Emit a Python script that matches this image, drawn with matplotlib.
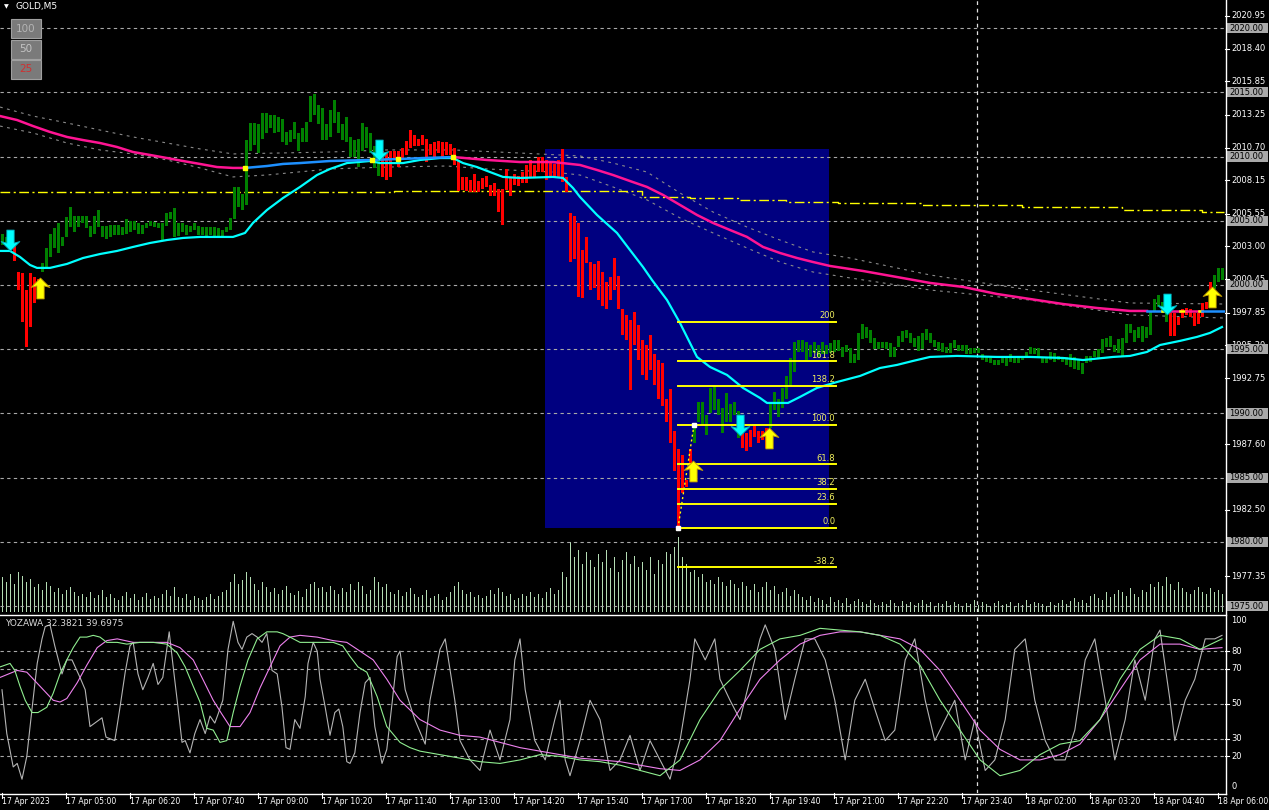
import matplotlib
matplotlib.use('Agg')
import matplotlib.pyplot as plt
from matplotlib.path import Path
from matplotlib.patches import Rectangle
from matplotlib.lines import Line2D
from matplotlib.transforms import blended_transform_factory

# GOLD M5, Heiken Ashi bodies, bar 0 = 17 Apr 2023 03:40
opens = [
    2003.1, 2003.0, 2003.3, 2003.0, 2001.0, 2000.9, 1999.6, 2000.9, 2000.6, 2000.5,
    2001.0, 2001.4, 2002.2, 2002.9, 2002.5, 2003.0, 2003.7, 2004.5, 2004.1, 2004.5,
    2004.8, 2004.4, 2003.7, 2004.0, 2004.5, 2003.7, 2003.6, 2003.7, 2003.9, 2003.9,
    2003.9, 2004.0, 2004.1, 2004.3, 2004.0, 2004.0, 2004.4, 2004.6, 2004.5, 2004.4,
    2003.5, 2004.6, 2005.1, 2003.7, 2003.8, 2004.1, 2003.9, 2004.1, 2004.3, 2003.9,
    2003.9, 2003.7, 2003.9, 2003.7, 2003.7, 2003.8, 2004.1, 2004.3, 2005.1, 2006.1,
    2005.8, 2006.2, 2010.4, 2010.9, 2010.3, 2011.4, 2011.8, 2012.2, 2011.8, 2011.9,
    2011.1, 2010.9, 2011.1, 2011.4, 2010.4, 2011.1, 2011.1, 2012.7, 2013.2, 2012.5,
    2011.3, 2011.3, 2011.5, 2012.6, 2011.8, 2011.3, 2011.1, 2010.0, 2010.0, 2009.2,
    2010.4, 2010.7, 2010.3, 2009.1, 2008.5, 2010.4, 2010.3, 2010.4, 2010.4, 2010.4,
    2010.7, 2011.2, 2012.1, 2011.7, 2011.4, 2011.7, 2011.4, 2011.0, 2011.1, 2011.2,
    2011.1, 2011.1, 2011.0, 2010.7, 2009.7, 2008.4, 2008.4, 2008.2, 2008.6, 2008.1,
    2008.3, 2008.5, 2007.8, 2007.9, 2007.5, 2007.5, 2009.0, 2008.3, 2008.6, 2008.5,
    2008.8, 2009.3, 2009.7, 2009.3, 2010.0, 2010.0, 2009.7, 2009.5, 2009.4, 2009.7,
    2010.6, 2008.4, 2005.6, 2005.4, 2004.8, 2002.7, 2003.7, 2001.8, 2001.6, 2001.9,
    2001.0, 2000.2, 2000.6, 2002.1, 2000.7, 1998.1, 1997.7, 1997.3, 1997.9, 1996.9,
    1995.7, 1995.3, 1996.1, 1994.6, 1994.2, 1993.9, 1991.1, 1991.9, 1988.6, 1987.2,
    1986.8, 1984.8, 1987.2, 1987.7, 1989.3, 1989.1, 1988.3, 1990.0, 1990.3, 1989.9,
    1988.5, 1989.3, 1989.3, 1989.9, 1988.1, 1988.7, 1988.5, 1988.7, 1989.0, 1988.6,
    1988.6, 1988.9, 1988.9, 1990.3, 1989.7, 1990.4, 1991.1, 1992.2, 1993.2, 1994.8,
    1994.8, 1994.1, 1994.4, 1994.7, 1994.4, 1994.6, 1994.6, 1994.7, 1994.8, 1994.9,
    1994.4, 1994.8, 1993.9, 1993.9, 1994.2, 1995.8, 1995.9, 1995.5, 1995.0, 1995.0,
    1995.1, 1995.0, 1994.4, 1994.4, 1995.2, 1995.6, 1995.9, 1995.5, 1995.2, 1994.9,
    1995.0, 1995.7, 1995.5, 1995.2, 1994.9, 1994.8, 1994.7, 1994.7, 1995.1, 1994.9,
    1994.9, 1994.6, 1994.6, 1994.7, 1994.7, 1994.2, 1994.0, 1993.9, 1993.8, 1993.8,
    1993.9, 1993.7, 1994.0, 1993.9, 1993.9, 1994.2, 1994.4, 1994.6, 1994.6, 1994.3,
    1993.9, 1993.9, 1994.2, 1994.0, 1994.2, 1994.0, 1993.8, 1993.6, 1993.5, 1993.4,
    1993.1, 1993.9, 1994.0, 1994.4, 1994.3, 1994.7, 1995.2, 1995.2, 1994.8, 1994.7,
    1994.4, 1995.5, 1996.3, 1995.6, 1995.9, 1995.6, 1995.9, 1996.1, 1997.9, 1998.3,
    1997.8, 1997.1, 1997.8, 1997.8, 1997.5, 1998.1, 1998.2, 1998.1, 1997.8, 1997.8,
    1998.6, 1998.7, 2000.2, 1999.7, 2000.2, 2000.4,
]
closes = [
    2004.0, 2003.7, 2002.7, 2001.9, 1999.6, 1997.1, 1995.2, 1996.7, 1998.6, 1999.6,
    2001.7, 2002.9, 2004.0, 2004.4, 2004.8, 2003.7, 2005.3, 2006.1, 2005.4, 2005.4,
    2005.4, 2005.4, 2004.6, 2005.4, 2005.8, 2004.6, 2004.6, 2004.7, 2004.7, 2004.7,
    2004.5, 2005.1, 2005.0, 2005.0, 2004.8, 2004.7, 2004.8, 2005.0, 2004.9, 2004.8,
    2004.8, 2005.6, 2005.7, 2006.0, 2004.8, 2004.8, 2004.7, 2004.6, 2004.8, 2004.6,
    2004.5, 2004.5, 2004.5, 2004.5, 2004.4, 2004.3, 2004.5, 2005.2, 2007.6, 2007.6,
    2007.1, 2011.3, 2012.6, 2012.6, 2012.5, 2013.4, 2013.4, 2013.2, 2013.2, 2013.1,
    2012.9, 2011.9, 2012.1, 2012.7, 2011.8, 2012.2, 2012.7, 2014.7, 2014.9, 2014.0,
    2013.8, 2012.5, 2013.6, 2014.4, 2013.5, 2012.5, 2013.1, 2011.5, 2011.3, 2011.4,
    2012.6, 2012.3, 2011.8, 2010.8, 2010.1, 2008.4, 2008.2, 2008.4, 2009.9, 2009.2,
    2009.9, 2010.1, 2010.7, 2010.8, 2010.8, 2010.9, 2009.6, 2010.1, 2010.0, 2010.3,
    2010.0, 2010.1, 2010.1, 2009.3, 2007.3, 2007.4, 2007.3, 2007.2, 2007.2, 2007.2,
    2007.5, 2007.6, 2006.9, 2006.9, 2005.7, 2004.7, 2007.4, 2006.9, 2007.8, 2007.7,
    2007.9, 2007.9, 2008.4, 2008.4, 2008.8, 2008.8, 2008.2, 2008.4, 2008.4, 2008.4,
    2008.0, 2007.2, 2001.8, 2002.0, 1999.1, 1999.0, 2001.7, 1999.6, 1999.8, 1998.8,
    1998.4, 1998.1, 1998.8, 1999.6, 1998.1, 1996.1, 1995.7, 1991.8, 1995.3, 1994.2,
    1993.0, 1992.6, 1993.4, 1992.2, 1991.1, 1990.6, 1989.3, 1987.7, 1985.5, 1980.9,
    1983.8, 1984.3, 1985.6, 1989.1, 1990.9, 1990.9, 1989.9, 1992.0, 1992.1, 1991.1,
    1990.4, 1991.6, 1990.7, 1990.9, 1990.2, 1987.3, 1987.1, 1987.4, 1988.2, 1987.7,
    1987.9, 1987.3, 1990.8, 1991.7, 1991.1, 1992.0, 1992.9, 1994.3, 1995.6, 1995.7,
    1995.7, 1995.6, 1995.3, 1995.6, 1995.3, 1995.6, 1995.3, 1995.5, 1995.7, 1995.7,
    1995.2, 1995.3, 1995.1, 1994.6, 1996.3, 1997.0, 1996.7, 1996.5, 1995.9, 1995.6,
    1995.6, 1995.6, 1995.5, 1995.2, 1996.0, 1996.4, 1996.5, 1996.3, 1995.9, 1996.0,
    1996.3, 1996.6, 1996.3, 1995.7, 1995.6, 1995.5, 1995.2, 1995.5, 1995.7, 1995.3,
    1995.3, 1995.3, 1995.1, 1995.1, 1995.1, 1994.6, 1994.5, 1994.3, 1994.2, 1994.2,
    1994.4, 1994.3, 1994.6, 1994.4, 1994.4, 1994.5, 1994.8, 1995.2, 1995.1, 1995.1,
    1994.4, 1994.3, 1994.8, 1994.7, 1994.5, 1994.3, 1994.4, 1994.6, 1994.4, 1994.2,
    1993.9, 1994.5, 1994.5, 1994.9, 1995.0, 1995.8, 1995.9, 1996.0, 1995.3, 1995.8,
    1995.9, 1997.0, 1997.0, 1996.5, 1996.7, 1996.8, 1996.7, 1998.0, 1998.9, 1999.2,
    1998.7, 1998.1, 1996.0, 1996.0, 1996.9, 1997.4, 1997.7, 1997.5, 1996.8, 1997.0,
    1997.5, 1998.1, 1998.6, 2000.8, 2001.3, 2001.3,
]
# tick volume (rough)
volumes = [
    350, 300, 380, 280, 400, 360, 300, 330, 250, 280, 220, 300, 260, 200, 240, 180, 220, 250, 200, 160,
    180, 150, 200, 140, 170, 220, 150, 180, 140, 120, 160, 200, 140, 180, 120, 150, 190, 130, 160, 140,
    180, 220, 160, 250, 150, 140, 180, 120, 160, 140, 120, 150, 180, 130, 160, 200, 220, 300, 380, 280,
    320, 400, 350, 280, 220, 300, 250, 200, 240, 180, 220, 260, 190, 170, 210, 150, 230, 280, 300, 240,
    250, 200, 260, 220, 180, 240, 200, 280, 220, 300, 260, 180, 220, 350, 300, 250, 280, 200, 180, 220,
    160, 200, 240, 180, 150, 170, 220, 140, 160, 180, 120, 150, 200, 260, 300, 220, 180, 200, 150, 170,
    140, 160, 220, 180, 240, 200, 160, 180, 120, 140, 180, 160, 200, 150, 180, 140, 200, 240, 180, 220,
    400, 350, 700, 550, 620, 480, 600, 520, 450, 580, 500, 620, 440, 550, 400, 520, 600, 480, 560, 450,
    500, 420, 550, 380, 520, 480, 600, 580, 650, 750, 550, 480, 400, 420, 350, 380, 300, 320, 280, 350,
    300, 260, 320, 280, 240, 300, 260, 220, 280, 200, 250, 300, 220, 260, 180, 200, 240, 160, 220, 180,
    150, 120, 160, 100, 140, 120, 80, 150, 100, 120, 90, 140, 80, 110, 130, 100, 80, 120, 90, 70,
    100, 80, 120, 90, 60, 110, 80, 100, 70, 90, 120, 80, 100, 60, 90, 80, 110, 70, 100, 80,
    60, 90, 80, 120, 70, 100, 80, 60, 90, 110, 70, 80, 100, 60, 90, 70, 120, 80, 100, 90,
    80, 60, 100, 70, 90, 120, 80, 110, 140, 100, 120, 90, 160, 180, 140, 120, 200, 150, 180, 220,
    200, 160, 240, 180, 150, 220, 200, 280, 250, 300, 260, 350, 280, 220, 300, 240, 200, 180, 220, 250,
    200, 180, 240, 200, 220, 180,
]

# moving averages (bar index, price)
cyan_x = [-0.5, 2, 4.5, 7, 8.75, 12, 16.25, 20.25, 24.5, 28.75, 32.75, 37, 41.25, 45.25, 49.5, 53.75,
          57.75, 60.75, 62.75, 66.25, 70.25, 74.5, 78.75, 82, 86.25, 92, 94.5, 100.25, 104.5, 109.5,
          112.75, 115.25, 118.75, 122, 125.25, 129.5, 137.75, 140.25, 142.75, 144.5, 148.75, 153.75,
          157, 160.25, 162.5, 166.25, 169.5, 173.75, 177, 181.25, 185.25, 189.5, 191.25, 196.5, 199.5,
          203.75, 208.75, 214.5, 219.5, 223.75, 227.75, 232, 238.75, 248.75, 257, 265.25, 270.25,
          277.75, 282, 286.25, 289.5, 294.5, 298.75, 302, 305]
cyan_y = [2002.65, 2002.65, 2002.18, 2001.56, 2001.33, 2001.33, 2001.64, 2002.10, 2002.41, 2002.65,
          2002.96, 2003.27, 2003.50, 2003.66, 2003.74, 2003.74, 2003.74, 2004.05, 2004.83, 2005.84,
          2006.77, 2007.63, 2008.56, 2009.03, 2009.49, 2009.65, 2009.49, 2009.49, 2009.73, 2009.88,
          2009.88, 2009.49, 2009.18, 2008.79, 2008.41, 2008.33, 2008.41, 2008.33, 2007.55, 2006.85,
          2005.45, 2004.05, 2002.72, 2001.40, 2000.39, 1998.83, 1997.04, 1994.40, 1993.62, 1993.00,
          1991.99, 1991.21, 1990.82, 1990.82, 1991.29, 1991.99, 1992.45, 1992.92, 1993.54, 1993.78,
          1994.09, 1994.40, 1994.48, 1994.40, 1994.40, 1994.32, 1994.16, 1994.40, 1994.48, 1994.79,
          1995.33, 1995.65, 1995.96, 1996.27, 1996.73]

ma_pink_a_x = [-0.5, 3.75, 7.75, 12, 16.25, 20.25, 24.5, 28.75, 32.75, 37, 41.25, 45.25, 49.5, 53.75, 57.75, 60.75]
ma_pink_a_y = [2013.15, 2012.84, 2012.37, 2011.91, 2011.52, 2011.28, 2011.05, 2010.74, 2010.35, 2010.12,
               2009.88, 2009.65, 2009.42, 2009.18, 2009.11, 2009.11]
ma_blue_a_x = [60.75, 66.25, 70.25, 74.5, 82, 92, 99.5, 112.75]
ma_blue_a_y = [2009.11, 2009.26, 2009.42, 2009.49, 2009.65, 2009.73, 2009.81, 2009.96]
ma_pink_b_x = [112.75, 121.25, 129.5, 137.75, 144.5, 148.75, 152.75, 157, 161.25, 165.25, 169.5, 173.75,
               177.75, 182, 186.25, 190.25, 194.5, 198.75, 202.75, 207, 215.25, 223.75, 232, 240.25,
               248.75, 257, 265.25, 273.75, 282, 286.25]
ma_pink_b_y = [2009.96, 2009.73, 2009.57, 2009.57, 2009.34, 2008.95, 2008.56, 2008.09, 2007.63, 2007.01,
               2006.23, 2005.45, 2004.83, 2004.28, 2003.74, 2002.96, 2002.49, 2002.10, 2001.79, 2001.48,
               2001.09, 2000.62, 2000.16, 1999.85, 1999.30, 1998.91, 1998.52, 1998.21, 1997.98, 1997.98]
ma_tail_level = 1997.98
ma_tail_segments = [(286.25, 290, 'blue'), (290, 291.5, 'yellow'), (291.5, 294.4, 'pink'),
                    (294.4, 296, 'yellow'), (296, 299.3, 'pink'), (299.3, 300, 'yellow'),
                    (300, 305.5, 'blue')]
ma_turn_x = [60.75, 92.5, 99, 112.75]
ma_turn_y = [2009.11, 2009.72, 2009.80, 2009.96]

env_up_x = [-0.5, 7.75, 16.25, 24.5, 32.75, 41.25, 49.5, 57.75, 82, 96.25, 112.75, 129.5, 144.5, 152.75,
            161.25, 169.5, 177.75, 186.25, 194.5, 202.75, 212, 232, 257, 282, 305.5]
env_up_y = [2013.85, 2013.15, 2012.61, 2012.06, 2011.52, 2011.05, 2010.59, 2010.20, 2010.35, 2010.51,
            2010.51, 2010.27, 2010.04, 2009.49, 2008.79, 2007.16, 2005.68, 2004.51, 2003.50, 2002.57,
            2002.10, 2000.78, 1999.61, 1998.60, 1998.52]
env_dn_x = [-0.5, 7.75, 16.25, 24.5, 32.75, 41.25, 49.5, 57.75, 66.25, 82, 96.25, 111.25, 121.25, 137.75,
            144.5, 152.75, 161.25, 169.5, 177.75, 186.25, 194.5, 202.75, 212, 232, 257, 282, 305.5]
env_dn_y = [2012.37, 2011.83, 2011.05, 2010.51, 2010.20, 2009.73, 2009.11, 2008.41, 2008.56, 2009.03,
            2009.18, 2009.26, 2009.03, 2008.79, 2008.56, 2007.63, 2006.62, 2005.22, 2004.05, 2002.88,
            2001.79, 2001.01, 2000.55, 1999.61, 1998.83, 1997.67, 1997.43]

# stepped yellow dash-dot level
pivot_x = [-0.5, 98, 160, 172, 184, 196, 209, 230, 255, 280, 300, 305.5]
pivot_y = [2007.25, 2007.30, 2006.85, 2006.77, 2006.62, 2006.46, 2006.38, 2006.20, 2006.05, 2005.85, 2005.70, 2005.70]

# signal arrows
down_x = [2, 94.25, 184.5, 291.25]
down_y = [2003.5, 2010.5, 1989.1, 1998.5]
up_x = [9.5, 172.75, 191.75, 302.5]
up_y = [1999.8, 1985.5, 1988.1, 1999.1]

# Fibonacci
fib_x0, fib_x1 = 169, 208.5
fib_low, fib_high = 1981.09, 1989.11
fib_levels = [0.0, 23.6, 38.2, 61.8, 100.0, 138.2, 161.8, 200.0, -38.2]
fib_labels = ['0.0', '23.6', '38.2', '61.8', '100.0', '138.2', '161.8', '200', '-38.2']
box_x = (135.75, 206.75)
box_y = (1981.09, 2010.58)

# oscillator (YOZAWA)
osc_gray_x = [0, 1.2, 2.8, 3.8, 5, 6.2, 7.5, 8.8, 10, 10.8, 12, 13.2, 15, 16.2, 17.5, 19.5, 20.8, 22, 23.8,
              25, 26, 28.2, 29.5, 30.8, 32, 32.8, 34, 35.2, 36.5, 37.8, 39, 40.2, 41.8, 42.8, 44, 45, 45.8,
              47, 48.2, 49.5, 50.8, 52, 53.2, 54, 55.2, 56.5, 57.8, 59, 60, 61.2, 62.5, 63.8, 65, 66.2,
              67.5, 68.8, 70, 71, 72, 73.2, 74.5, 75.8, 76.5, 77.8, 78.8, 79.5, 80.8, 82, 83.2, 84.2,
              85.2, 86.2, 87, 88.2, 89.5, 90.8, 92, 93.2, 95, 96.2, 97.5, 98.8, 99.5,
              100.8, 103.2, 105.8, 107, 109.5, 110.8, 113.2, 114.5, 117, 119.5, 122, 124.5, 127, 128.2,
              129.5, 130.8, 133.2, 135.8, 138.2, 139.5, 140.8, 142, 144.5, 147, 149.5, 152, 154.5, 157,
              159.5, 162, 164.5, 167, 169.5, 172, 173.2, 175.8, 178.2, 179.5, 182, 184.5, 187, 189.5,
              190.8, 193.2, 195.8, 198.2, 200.8, 203.2, 205.8, 208.2, 210.8, 213.2, 215.8, 218.2, 220.8,
              223.2, 225.8, 228.2, 230.8, 233.2, 235.8, 238.2, 240.8, 243.2, 245.8, 248.2, 250.8, 253.2,
              255.8, 258.2, 260.8, 263.2, 265.8, 268.2, 270.8, 273.2, 275.8, 278.2, 280.8, 283.2, 285.8,
              288.2, 289.5, 292, 293.2, 295.8, 298.2, 300.8, 303.2, 305]
osc_gray = [58, 33, 14, 16, 7, 20, 47, 73, 87, 94, 95, 83, 67, 75, 75, 65, 58, 37, 40,
            42, 31, 29, 48, 68, 83, 85, 67, 58, 65, 73, 61, 65, 91, 71, 48, 28, 29,
            22, 33, 41, 33, 43, 39, 44, 52, 81, 97, 85, 81, 88, 90, 88, 85, 90,
            69, 67, 48, 25, 24, 41, 36, 54, 73, 85, 80, 64, 48, 32, 45, 47,
            37, 17, 16, 22, 45, 62, 65, 37, 16, 24, 50, 77, 80,
            58, 41, 27, 52, 81, 87, 52, 29, 18, 12, 35, 18, 41, 75,
            87, 58, 29, 18, 41, 52, 18, 9, 29, 52, 41, 12, 18, 32,
            12, 29, 18, 7, 29, 64, 87, 75, 87, 64, 52, 41, 64, 87,
            95, 81, 41, 64, 87, 87, 75, 52, 18, 52, 64, 47, 29,
            35, 75, 87, 52, 29, 41, 52, 18, 41, 12, 18, 41, 81,
            87, 52, 29, 18, 18, 35, 75, 87, 52, 18, 41, 75, 52,
            87, 92, 52, 29, 52, 64, 87, 87, 89]
osc_green_x = [-0.5, 2, 3.2, 4.5, 5.8, 7.5, 9, 11.2, 12.8, 14.5, 16.2, 17.8, 19.5, 21.2, 22.8, 24.5, 26.2,
               28.8, 31.2, 34.5, 37.8, 41.2, 43.8, 45.8, 47.8, 49.5, 51.2, 52.8, 54.5, 56.2, 57.8, 59.5,
               61.5, 63.8, 66.2, 68.8, 70.2, 72, 74.5, 78.8, 82.8, 85.2, 87, 89, 91.2, 93.8, 96.2, 99.5,
               102, 104.5, 109.5, 114.5, 119.5, 124.5, 129.5, 134.5, 139.5, 144.5, 149.5, 154.5, 159.5,
               164.5, 169.5, 174.5, 179.5, 184.5, 189.5, 194.5, 199.5, 204.5, 209.5, 214.5, 219.5, 224.5,
               229.5, 234.5, 239.5, 244.5, 249.5, 254.5, 259.5, 264.5, 269.5, 274.5, 279.5, 284.5, 289.5,
               294.5, 299.5, 305]
osc_green = [71, 73, 69, 60, 52, 45, 45, 48, 56, 67, 75, 82, 88, 88, 89, 88, 85,
             85, 84, 85, 85, 84, 79, 71, 60, 51, 36, 35, 28, 29, 45, 60,
             75, 87, 91, 91, 90, 88, 85, 85, 85, 83, 77, 71, 68, 54, 37, 28,
             25, 23, 21, 19, 17, 16, 18, 21, 20, 18, 17, 15, 12,
             9, 18, 41, 58, 69, 81, 87, 89, 93, 92, 91, 89, 84,
             72, 52, 35, 18, 9, 12, 21, 27, 29, 41, 64, 81, 89,
             87, 81, 87]
osc_violet_x = [-0.5, 3.8, 6.2, 9.5, 12.8, 14.5, 16.2, 18.8, 21.2, 23.8, 26.2, 28.8, 32.8, 37, 41.2, 44.5,
                47.8, 50.2, 52.8, 55, 57, 59.5, 62, 64.5, 67, 69.5, 72, 74.5, 78.8, 82.8, 86.2, 89.5,
                92.8, 96.2, 99.5, 104.5, 109.5, 114.5, 119.5, 124.5, 129.5, 134.5, 139.5, 144.5, 149.5,
                154.5, 159.5, 164.5, 169.5, 174.5, 179.5, 184.5, 189.5, 194.5, 199.5, 204.5, 209.5,
                214.5, 219.5, 224.5, 229.5, 234.5, 239.5, 244.5, 249.5, 254.5, 259.5, 264.5, 269.5,
                274.5, 279.5, 284.5, 289.5, 294.5, 299.5, 305]
osc_violet = [65, 69, 68, 60, 52, 51, 53, 62, 72, 82, 86, 87, 85, 85, 85, 82,
              75, 64, 52, 44, 37, 37, 45, 59, 71, 83, 88, 89, 88, 86, 85, 80,
              75, 64, 52, 41, 35, 32, 31, 28, 25, 23, 21, 19, 18,
              17, 15, 13, 12, 18, 29, 47, 64, 75, 84, 89, 91,
              91, 89, 87, 81, 69, 52, 35, 24, 18, 18, 21, 27,
              41, 58, 75, 84, 84, 81, 82]

# labels hidden under the grey level boxes are left out
price_ticks = [2020.95, 2018.40, 2015.85, 2013.25, 2010.70, 2008.15, 2005.55, 2003.00, 2000.45,
               1997.85, 1995.30, 1992.75, 1987.60, 1982.50, 1977.35]
hline_levels = [2020, 2015, 2010, 2005, 2000, 1995, 1990, 1985, 1980, 1975]
osc_levels = [80, 70, 50, 30, 20]
osc_labels = [(97.4, '100'), (80, '80'), (70, '70'), (50, '50'), (30, '30'), (20, '20'), (2.6, '0')]
date_labels = ['17 Apr 2023', '17 Apr 05:00', '17 Apr 06:20', '17 Apr 07:40', '17 Apr 09:00',
               '17 Apr 10:20', '17 Apr 11:40', '17 Apr 13:00', '17 Apr 14:20', '17 Apr 15:40',
               '17 Apr 17:00', '17 Apr 18:20', '17 Apr 19:40', '17 Apr 21:00', '17 Apr 22:20',
               '17 Apr 23:40', '18 Apr 02:00', '18 Apr 03:20', '18 Apr 04:40', '18 Apr 06:00']
date_bars = list(range(0, 305, 16))
separator_bar = 243.75

W, H = 1269, 810
GREEN, RED = '#008000', '#ff0000'
PINK, BLUE, CYAN, YEL = '#ff1493', '#1e90ff', '#00ffff', '#ffff00'
GRID = '#a8a8a8'
FS = 6

fig = plt.figure(figsize=(W / 100, H / 100), dpi=100, facecolor='black')


def fx(px):
    return px / W


def fy(py):
    return 1 - py / H


rect_main = [0, fy(612), fx(1225), 612 / H]
vax = fig.add_axes(rect_main)
ax = fig.add_axes(rect_main)
osc = fig.add_axes([0, fy(793), fx(1225), (793 - 615) / H])
for a in (vax, ax, osc):
    a.set_xlim(-0.5, 305.75)
    a.set_xticks([])
    a.set_yticks([])
    for s in a.spines.values():
        s.set_visible(False)
vax.set_facecolor('black')
ax.patch.set_visible(False)
osc.set_facecolor('black')
ax.set_ylim(1974.55, 2022.18)
vax.set_ylim(0, 6120)
osc.set_ylim(-0.86, 100.6)

# volumes
bars = list(range(len(opens)))
vax.vlines(bars, 0, volumes, color='#b4dcb4', lw=0.6, antialiased=False)

# blue box
ax.add_patch(Rectangle((box_x[0], box_y[0]), box_x[1] - box_x[0], box_y[1] - box_y[0],
                       facecolor='#000080', edgecolor='none', zorder=0.5))

# grid
for lv in hline_levels:
    ax.axhline(lv, color=GRID, lw=0.8, ls=(0, (3, 3)), zorder=1)
ax.axvline(separator_bar, color='#e0e0e0', lw=0.9, ls=(0, (3, 3)), zorder=1)

# envelopes and pivot
ax.plot(env_up_x, env_up_y, color='#8a8a8a', lw=0.8, ls=(0, (2.5, 4)), zorder=2)
ax.plot(env_dn_x, env_dn_y, color='#8a8a8a', lw=0.8, ls=(0, (2.5, 4)), zorder=2)
ax.step(pivot_x, pivot_y, where='post', color=YEL, lw=1.0, ls=(0, (7, 2.5, 1.5, 2.5)), zorder=2)

# Heiken Ashi bodies
lo = [min(o, c) for o, c in zip(opens, closes)]
hi = [max(o, c) for o, c in zip(opens, closes)]
cols = [GREEN if c >= o else RED for o, c in zip(opens, closes)]
ax.bar(bars, [h - l for h, l in zip(hi, lo)], bottom=lo, width=0.75, color=cols, linewidth=0,
       antialiased=False, zorder=3)

# moving averages
ax.plot(cyan_x, cyan_y, color=CYAN, lw=1.6, zorder=4)
ax.plot(ma_pink_a_x, ma_pink_a_y, color=PINK, lw=1.8, zorder=4)
ax.plot(ma_blue_a_x, ma_blue_a_y, color=BLUE, lw=1.8, zorder=4)
ax.plot(ma_pink_b_x, ma_pink_b_y, color=PINK, lw=1.8, zorder=4)
seg_col = {'blue': BLUE, 'pink': PINK, 'yellow': YEL}
for x0, x1, c in ma_tail_segments:
    ax.plot([x0, x1], [ma_tail_level, ma_tail_level], color=seg_col[c], lw=1.8, zorder=4)
ax.plot(ma_turn_x, ma_turn_y, 's', color=YEL, ms=2.2, zorder=4)

# Fibonacci
fib_range = fib_high - fib_low
for lvl, lab in zip(fib_levels, fib_labels):
    p = fib_low + lvl / 100 * fib_range
    ax.plot([fib_x0, fib_x1], [p, p], color=YEL, lw=1.4, zorder=5)
    ax.text(fib_x1 - 0.2, p + 0.12, lab, color='#f0f060', fontsize=FS, ha='right', va='bottom', zorder=6)
ax.plot([fib_x0, fib_x0 + 4], [fib_low, fib_high], color=YEL, lw=1, ls=(0, (1.5, 2)), zorder=5)
ax.plot([fib_x0, fib_x0 + 4], [fib_low, fib_high], 's', color='white', ms=2.5, zorder=6)

# arrows
up_arrow = Path([(0, 1), (-0.9, 0.1), (-0.35, 0.25), (-0.35, -1), (0.35, -1), (0.35, 0.25),
                 (0.9, 0.1), (0, 1)], closed=True)
down_arrow = Path([(0, -1), (-0.9, -0.1), (-0.35, -0.25), (-0.35, 1), (0.35, 1), (0.35, -0.25),
                   (0.9, -0.1), (0, -1)], closed=True)
ax.plot(up_x, up_y, ls='none', marker=up_arrow, ms=15, color=YEL, mec='#c8a000', mew=0.6, zorder=7)
ax.plot(down_x, down_y, ls='none', marker=down_arrow, ms=15, color=CYAN, mec='#00b0c0', mew=0.6, zorder=7)

# right price scale
tr = blended_transform_factory(ax.transAxes, ax.transData)
for p in price_ticks:
    ax.text(fx(1231) / fx(1225), p, f'{p:.2f}', transform=tr, color='white', fontsize=FS,
            ha='left', va='center', clip_on=False)
    ax.add_line(Line2D([1.0, fx(1229) / fx(1225)], [p, p], transform=tr, color='white', lw=0.8,
                       clip_on=False))
for lv in hline_levels:
    ax.add_patch(Rectangle((fx(1227) / fx(1225), lv - 0.4), 41 / 1225, 0.8, transform=tr,
                           facecolor='#a9a9a9', edgecolor='none', clip_on=False, zorder=8))
    ax.text(fx(1229) / fx(1225), lv, f'{lv:.2f}', transform=tr, color='black', fontsize=FS,
            ha='left', va='center', clip_on=False, zorder=9)

# oscillator
for lv in osc_levels:
    osc.axhline(lv, color=GRID, lw=0.8, ls=(0, (3, 3)))
osc.axvline(separator_bar, color='#e0e0e0', lw=0.9, ls=(0, (3, 3)))
osc.plot(osc_gray_x, osc_gray, color='#b4b4b4', lw=0.8)
osc.plot(osc_violet_x, osc_violet, color='#ee82ee', lw=0.8)
osc.plot(osc_green_x, osc_green, color='#90ee90', lw=0.8)
tro = blended_transform_factory(osc.transAxes, osc.transData)
for v, lab in osc_labels:
    osc.text(fx(1231) / fx(1225), v, lab, transform=tro, color='white', fontsize=FS,
             ha='left', va='center', clip_on=False)
for lv in osc_levels:
    osc.add_line(Line2D([1.0, fx(1229) / fx(1225)], [lv, lv], transform=tro, color='white', lw=0.8,
                        clip_on=False))
osc.text(fx(5) / fx(1225), 0.955, 'YOZAWA 32.3821 39.6975', transform=osc.transAxes,
         color='#d8d8d8', fontsize=6.5, ha='left', va='center')

# frame lines
for seg in ([(1225.5, 0), (1225.5, 794)], [(0, 614.5), (1225.5, 614.5)], [(0, 793.5), (1225.5, 793.5)]):
    (x0, y0), (x1, y1) = seg
    fig.add_artist(Line2D([fx(x0), fx(x1)], [fy(y0), fy(y1)], color='white', lw=1))

# time axis
for b, lab in zip(date_bars, date_labels):
    xp = 2 + 4 * b
    fig.add_artist(Line2D([fx(xp), fx(xp)], [fy(793), fy(798)], color='white', lw=0.8))
    fig.text(fx(xp + 0.5), fy(802), lab, color='white', fontsize=5.6, ha='left', va='center')

# header and buttons
fig.text(fx(4), fy(7), '\u25bc', color='white', fontsize=4.5, ha='left', va='center')
fig.text(fx(16), fy(7), 'GOLD,M5', color='white', fontsize=6.5, ha='left', va='center')
for top, lab, col in ((19, '100', '#b4b4b4'), (40, '50', '#c4c4c4'), (60, '25', '#d03030')):
    fig.add_artist(Rectangle((fx(11), fy(top + 19)), fx(30), 19 / H, transform=fig.transFigure,
                             facecolor='#7a7a7a', edgecolor='#a0a0a0', lw=0.8))
    fig.text(fx(26), fy(top + 9.5), lab, color=col, fontsize=7.5, ha='center', va='center')

fig.savefig('out.png', dpi=100, facecolor='black')
